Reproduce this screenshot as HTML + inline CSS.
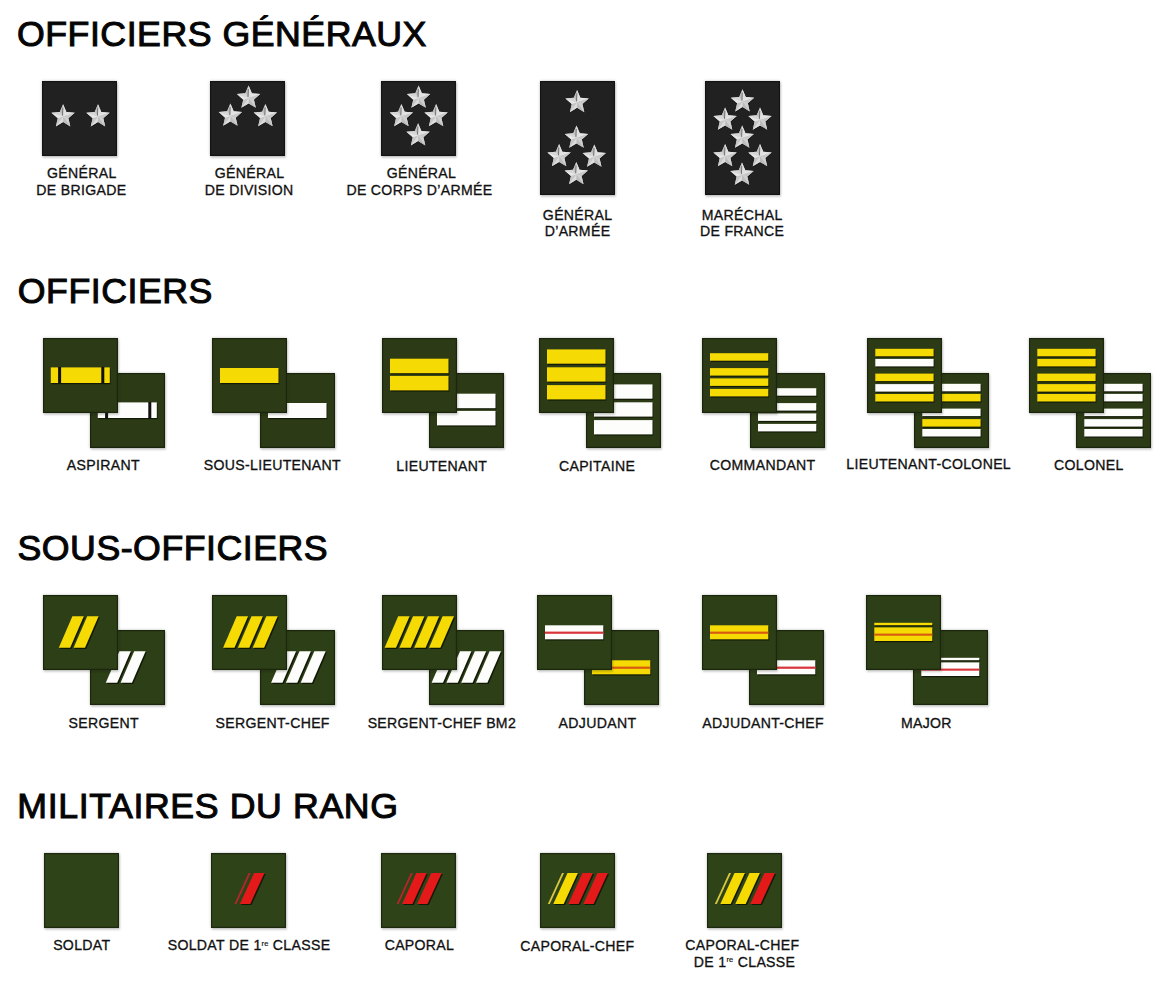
<!DOCTYPE html><html><head><meta charset="utf-8"><style>
*{margin:0;padding:0;box-sizing:border-box}
html,body{width:1170px;height:981px;overflow:hidden;background:#fff}
body{position:relative;font-family:"Liberation Sans",sans-serif;color:#1b1b1b}
.h{position:absolute;left:0;font-size:35.7px;line-height:36px;letter-spacing:0.52px;white-space:nowrap;color:#050505;-webkit-text-stroke:1.05px #050505}
.bx{position:absolute;box-shadow:inset 0 0 0 1.2px rgba(0,0,0,.38),0 0 2.5px rgba(60,70,50,.35),1px 1.5px 2px rgba(0,0,0,.15)}
.bx svg{z-index:0}
.bx svg{position:absolute;left:0;top:0;display:block}
.l{position:absolute;font-size:14.1px;letter-spacing:0.32px;line-height:14px;white-space:nowrap;width:300px;text-align:center;color:#111;-webkit-text-stroke:0.32px #111}
.l sup{font-size:7.5px;vertical-align:0;position:relative;top:-4.5px;letter-spacing:0.2px;-webkit-text-stroke:0.2px #1b1b1b}
</style></head><body>
<div class="h" style="left:17.0px;top:15.79px">OFFICIERS GÉNÉRAUX</div>
<div class="h" style="left:17.8px;top:272.79px">OFFICIERS</div>
<div class="h" style="left:17.5px;top:530.19px">SOUS-OFFICIERS</div>
<div class="h" style="left:17.3px;top:787.69px"><span style="letter-spacing:0.62px">MILITAIRES DU RANG</span></div>
<div class="bx" style="left:42px;top:80.5px;width:75px;height:75px;background:#212121"><svg width="75" height="75" viewBox="0 0 75 75"><polygon points="21.10,23.20 24.39,30.97 32.80,31.70 26.43,37.23 28.33,45.45 21.10,41.10 13.87,45.45 15.77,37.23 9.40,31.70 17.81,30.97" fill="#0a0a0a" opacity="0.6" transform="translate(0.5,0.7)"/><polygon points="21.10,23.20 24.39,30.97 32.80,31.70 26.43,37.23 28.33,45.45 21.10,41.10 13.87,45.45 15.77,37.23 9.40,31.70 17.81,30.97" fill="#d2d2d2"/><polygon points="21.10,35.50 17.81,30.97 21.10,23.20" fill="#bdbdbd"/><polygon points="21.10,35.50 21.10,23.20 24.39,30.97" fill="#e0e0e0"/><polygon points="21.10,35.50 24.39,30.97 32.80,31.70" fill="#e4e4e4"/><polygon points="21.10,35.50 32.80,31.70 26.43,37.23" fill="#c8c8c8"/><polygon points="21.10,35.50 26.43,37.23 28.33,45.45" fill="#d0d0d0"/><polygon points="21.10,35.50 28.33,45.45 21.10,41.10" fill="#bcbcbc"/><polygon points="21.10,35.50 21.10,41.10 13.87,45.45" fill="#dcdcdc"/><polygon points="21.10,35.50 13.87,45.45 15.77,37.23" fill="#c6c6c6"/><polygon points="21.10,35.50 15.77,37.23 9.40,31.70" fill="#e6e6e6"/><polygon points="21.10,35.50 9.40,31.70 17.81,30.97" fill="#d6d6d6"/><line x1="20.50" y1="34.50" x2="20.90" y2="26.70" stroke="#6a6a6a" stroke-width="0.9"/><polygon points="56.00,23.20 59.29,30.97 67.70,31.70 61.33,37.23 63.23,45.45 56.00,41.10 48.77,45.45 50.67,37.23 44.30,31.70 52.71,30.97" fill="#0a0a0a" opacity="0.6" transform="translate(0.5,0.7)"/><polygon points="56.00,23.20 59.29,30.97 67.70,31.70 61.33,37.23 63.23,45.45 56.00,41.10 48.77,45.45 50.67,37.23 44.30,31.70 52.71,30.97" fill="#d2d2d2"/><polygon points="56.00,35.50 52.71,30.97 56.00,23.20" fill="#bdbdbd"/><polygon points="56.00,35.50 56.00,23.20 59.29,30.97" fill="#e0e0e0"/><polygon points="56.00,35.50 59.29,30.97 67.70,31.70" fill="#e4e4e4"/><polygon points="56.00,35.50 67.70,31.70 61.33,37.23" fill="#c8c8c8"/><polygon points="56.00,35.50 61.33,37.23 63.23,45.45" fill="#d0d0d0"/><polygon points="56.00,35.50 63.23,45.45 56.00,41.10" fill="#bcbcbc"/><polygon points="56.00,35.50 56.00,41.10 48.77,45.45" fill="#dcdcdc"/><polygon points="56.00,35.50 48.77,45.45 50.67,37.23" fill="#c6c6c6"/><polygon points="56.00,35.50 50.67,37.23 44.30,31.70" fill="#e6e6e6"/><polygon points="56.00,35.50 44.30,31.70 52.71,30.97" fill="#d6d6d6"/><line x1="55.40" y1="34.50" x2="55.80" y2="26.70" stroke="#6a6a6a" stroke-width="0.9"/></svg></div>
<div class="bx" style="left:209.8px;top:80.8px;width:75px;height:75px;background:#212121"><svg width="75" height="75" viewBox="0 0 75 75"><polygon points="38.60,4.60 41.89,12.37 50.30,13.10 43.93,18.63 45.83,26.85 38.60,22.50 31.37,26.85 33.27,18.63 26.90,13.10 35.31,12.37" fill="#0a0a0a" opacity="0.6" transform="translate(0.5,0.7)"/><polygon points="38.60,4.60 41.89,12.37 50.30,13.10 43.93,18.63 45.83,26.85 38.60,22.50 31.37,26.85 33.27,18.63 26.90,13.10 35.31,12.37" fill="#d2d2d2"/><polygon points="38.60,16.90 35.31,12.37 38.60,4.60" fill="#bdbdbd"/><polygon points="38.60,16.90 38.60,4.60 41.89,12.37" fill="#e0e0e0"/><polygon points="38.60,16.90 41.89,12.37 50.30,13.10" fill="#e4e4e4"/><polygon points="38.60,16.90 50.30,13.10 43.93,18.63" fill="#c8c8c8"/><polygon points="38.60,16.90 43.93,18.63 45.83,26.85" fill="#d0d0d0"/><polygon points="38.60,16.90 45.83,26.85 38.60,22.50" fill="#bcbcbc"/><polygon points="38.60,16.90 38.60,22.50 31.37,26.85" fill="#dcdcdc"/><polygon points="38.60,16.90 31.37,26.85 33.27,18.63" fill="#c6c6c6"/><polygon points="38.60,16.90 33.27,18.63 26.90,13.10" fill="#e6e6e6"/><polygon points="38.60,16.90 26.90,13.10 35.31,12.37" fill="#d6d6d6"/><line x1="38.00" y1="15.90" x2="38.40" y2="8.10" stroke="#6a6a6a" stroke-width="0.9"/><polygon points="20.40,22.60 23.69,30.37 32.10,31.10 25.73,36.63 27.63,44.85 20.40,40.50 13.17,44.85 15.07,36.63 8.70,31.10 17.11,30.37" fill="#0a0a0a" opacity="0.6" transform="translate(0.5,0.7)"/><polygon points="20.40,22.60 23.69,30.37 32.10,31.10 25.73,36.63 27.63,44.85 20.40,40.50 13.17,44.85 15.07,36.63 8.70,31.10 17.11,30.37" fill="#d2d2d2"/><polygon points="20.40,34.90 17.11,30.37 20.40,22.60" fill="#bdbdbd"/><polygon points="20.40,34.90 20.40,22.60 23.69,30.37" fill="#e0e0e0"/><polygon points="20.40,34.90 23.69,30.37 32.10,31.10" fill="#e4e4e4"/><polygon points="20.40,34.90 32.10,31.10 25.73,36.63" fill="#c8c8c8"/><polygon points="20.40,34.90 25.73,36.63 27.63,44.85" fill="#d0d0d0"/><polygon points="20.40,34.90 27.63,44.85 20.40,40.50" fill="#bcbcbc"/><polygon points="20.40,34.90 20.40,40.50 13.17,44.85" fill="#dcdcdc"/><polygon points="20.40,34.90 13.17,44.85 15.07,36.63" fill="#c6c6c6"/><polygon points="20.40,34.90 15.07,36.63 8.70,31.10" fill="#e6e6e6"/><polygon points="20.40,34.90 8.70,31.10 17.11,30.37" fill="#d6d6d6"/><line x1="19.80" y1="33.90" x2="20.20" y2="26.10" stroke="#6a6a6a" stroke-width="0.9"/><polygon points="55.40,23.00 58.69,30.77 67.10,31.50 60.73,37.03 62.63,45.25 55.40,40.90 48.17,45.25 50.07,37.03 43.70,31.50 52.11,30.77" fill="#0a0a0a" opacity="0.6" transform="translate(0.5,0.7)"/><polygon points="55.40,23.00 58.69,30.77 67.10,31.50 60.73,37.03 62.63,45.25 55.40,40.90 48.17,45.25 50.07,37.03 43.70,31.50 52.11,30.77" fill="#d2d2d2"/><polygon points="55.40,35.30 52.11,30.77 55.40,23.00" fill="#bdbdbd"/><polygon points="55.40,35.30 55.40,23.00 58.69,30.77" fill="#e0e0e0"/><polygon points="55.40,35.30 58.69,30.77 67.10,31.50" fill="#e4e4e4"/><polygon points="55.40,35.30 67.10,31.50 60.73,37.03" fill="#c8c8c8"/><polygon points="55.40,35.30 60.73,37.03 62.63,45.25" fill="#d0d0d0"/><polygon points="55.40,35.30 62.63,45.25 55.40,40.90" fill="#bcbcbc"/><polygon points="55.40,35.30 55.40,40.90 48.17,45.25" fill="#dcdcdc"/><polygon points="55.40,35.30 48.17,45.25 50.07,37.03" fill="#c6c6c6"/><polygon points="55.40,35.30 50.07,37.03 43.70,31.50" fill="#e6e6e6"/><polygon points="55.40,35.30 43.70,31.50 52.11,30.77" fill="#d6d6d6"/><line x1="54.80" y1="34.30" x2="55.20" y2="26.50" stroke="#6a6a6a" stroke-width="0.9"/></svg></div>
<div class="bx" style="left:381.2px;top:80.5px;width:75px;height:75px;background:#212121"><svg width="75" height="75" viewBox="0 0 75 75"><polygon points="37.60,4.60 40.89,12.37 49.30,13.10 42.93,18.63 44.83,26.85 37.60,22.50 30.37,26.85 32.27,18.63 25.90,13.10 34.31,12.37" fill="#0a0a0a" opacity="0.6" transform="translate(0.5,0.7)"/><polygon points="37.60,4.60 40.89,12.37 49.30,13.10 42.93,18.63 44.83,26.85 37.60,22.50 30.37,26.85 32.27,18.63 25.90,13.10 34.31,12.37" fill="#d2d2d2"/><polygon points="37.60,16.90 34.31,12.37 37.60,4.60" fill="#bdbdbd"/><polygon points="37.60,16.90 37.60,4.60 40.89,12.37" fill="#e0e0e0"/><polygon points="37.60,16.90 40.89,12.37 49.30,13.10" fill="#e4e4e4"/><polygon points="37.60,16.90 49.30,13.10 42.93,18.63" fill="#c8c8c8"/><polygon points="37.60,16.90 42.93,18.63 44.83,26.85" fill="#d0d0d0"/><polygon points="37.60,16.90 44.83,26.85 37.60,22.50" fill="#bcbcbc"/><polygon points="37.60,16.90 37.60,22.50 30.37,26.85" fill="#dcdcdc"/><polygon points="37.60,16.90 30.37,26.85 32.27,18.63" fill="#c6c6c6"/><polygon points="37.60,16.90 32.27,18.63 25.90,13.10" fill="#e6e6e6"/><polygon points="37.60,16.90 25.90,13.10 34.31,12.37" fill="#d6d6d6"/><line x1="37.00" y1="15.90" x2="37.40" y2="8.10" stroke="#6a6a6a" stroke-width="0.9"/><polygon points="20.40,23.00 23.69,30.77 32.10,31.50 25.73,37.03 27.63,45.25 20.40,40.90 13.17,45.25 15.07,37.03 8.70,31.50 17.11,30.77" fill="#0a0a0a" opacity="0.6" transform="translate(0.5,0.7)"/><polygon points="20.40,23.00 23.69,30.77 32.10,31.50 25.73,37.03 27.63,45.25 20.40,40.90 13.17,45.25 15.07,37.03 8.70,31.50 17.11,30.77" fill="#d2d2d2"/><polygon points="20.40,35.30 17.11,30.77 20.40,23.00" fill="#bdbdbd"/><polygon points="20.40,35.30 20.40,23.00 23.69,30.77" fill="#e0e0e0"/><polygon points="20.40,35.30 23.69,30.77 32.10,31.50" fill="#e4e4e4"/><polygon points="20.40,35.30 32.10,31.50 25.73,37.03" fill="#c8c8c8"/><polygon points="20.40,35.30 25.73,37.03 27.63,45.25" fill="#d0d0d0"/><polygon points="20.40,35.30 27.63,45.25 20.40,40.90" fill="#bcbcbc"/><polygon points="20.40,35.30 20.40,40.90 13.17,45.25" fill="#dcdcdc"/><polygon points="20.40,35.30 13.17,45.25 15.07,37.03" fill="#c6c6c6"/><polygon points="20.40,35.30 15.07,37.03 8.70,31.50" fill="#e6e6e6"/><polygon points="20.40,35.30 8.70,31.50 17.11,30.77" fill="#d6d6d6"/><line x1="19.80" y1="34.30" x2="20.20" y2="26.50" stroke="#6a6a6a" stroke-width="0.9"/><polygon points="55.10,23.00 58.39,30.77 66.80,31.50 60.43,37.03 62.33,45.25 55.10,40.90 47.87,45.25 49.77,37.03 43.40,31.50 51.81,30.77" fill="#0a0a0a" opacity="0.6" transform="translate(0.5,0.7)"/><polygon points="55.10,23.00 58.39,30.77 66.80,31.50 60.43,37.03 62.33,45.25 55.10,40.90 47.87,45.25 49.77,37.03 43.40,31.50 51.81,30.77" fill="#d2d2d2"/><polygon points="55.10,35.30 51.81,30.77 55.10,23.00" fill="#bdbdbd"/><polygon points="55.10,35.30 55.10,23.00 58.39,30.77" fill="#e0e0e0"/><polygon points="55.10,35.30 58.39,30.77 66.80,31.50" fill="#e4e4e4"/><polygon points="55.10,35.30 66.80,31.50 60.43,37.03" fill="#c8c8c8"/><polygon points="55.10,35.30 60.43,37.03 62.33,45.25" fill="#d0d0d0"/><polygon points="55.10,35.30 62.33,45.25 55.10,40.90" fill="#bcbcbc"/><polygon points="55.10,35.30 55.10,40.90 47.87,45.25" fill="#dcdcdc"/><polygon points="55.10,35.30 47.87,45.25 49.77,37.03" fill="#c6c6c6"/><polygon points="55.10,35.30 49.77,37.03 43.40,31.50" fill="#e6e6e6"/><polygon points="55.10,35.30 43.40,31.50 51.81,30.77" fill="#d6d6d6"/><line x1="54.50" y1="34.30" x2="54.90" y2="26.50" stroke="#6a6a6a" stroke-width="0.9"/><polygon points="37.10,42.20 40.39,49.97 48.80,50.70 42.43,56.23 44.33,64.45 37.10,60.10 29.87,64.45 31.77,56.23 25.40,50.70 33.81,49.97" fill="#0a0a0a" opacity="0.6" transform="translate(0.5,0.7)"/><polygon points="37.10,42.20 40.39,49.97 48.80,50.70 42.43,56.23 44.33,64.45 37.10,60.10 29.87,64.45 31.77,56.23 25.40,50.70 33.81,49.97" fill="#d2d2d2"/><polygon points="37.10,54.50 33.81,49.97 37.10,42.20" fill="#bdbdbd"/><polygon points="37.10,54.50 37.10,42.20 40.39,49.97" fill="#e0e0e0"/><polygon points="37.10,54.50 40.39,49.97 48.80,50.70" fill="#e4e4e4"/><polygon points="37.10,54.50 48.80,50.70 42.43,56.23" fill="#c8c8c8"/><polygon points="37.10,54.50 42.43,56.23 44.33,64.45" fill="#d0d0d0"/><polygon points="37.10,54.50 44.33,64.45 37.10,60.10" fill="#bcbcbc"/><polygon points="37.10,54.50 37.10,60.10 29.87,64.45" fill="#dcdcdc"/><polygon points="37.10,54.50 29.87,64.45 31.77,56.23" fill="#c6c6c6"/><polygon points="37.10,54.50 31.77,56.23 25.40,50.70" fill="#e6e6e6"/><polygon points="37.10,54.50 25.40,50.70 33.81,49.97" fill="#d6d6d6"/><line x1="36.50" y1="53.50" x2="36.90" y2="45.70" stroke="#6a6a6a" stroke-width="0.9"/></svg></div>
<div class="bx" style="left:540.2px;top:80.7px;width:75px;height:114px;background:#212121"><svg width="75" height="114" viewBox="0 0 75 114"><polygon points="37.10,8.90 40.39,16.67 48.80,17.40 42.43,22.93 44.33,31.15 37.10,26.80 29.87,31.15 31.77,22.93 25.40,17.40 33.81,16.67" fill="#0a0a0a" opacity="0.6" transform="translate(0.5,0.7)"/><polygon points="37.10,8.90 40.39,16.67 48.80,17.40 42.43,22.93 44.33,31.15 37.10,26.80 29.87,31.15 31.77,22.93 25.40,17.40 33.81,16.67" fill="#d2d2d2"/><polygon points="37.10,21.20 33.81,16.67 37.10,8.90" fill="#bdbdbd"/><polygon points="37.10,21.20 37.10,8.90 40.39,16.67" fill="#e0e0e0"/><polygon points="37.10,21.20 40.39,16.67 48.80,17.40" fill="#e4e4e4"/><polygon points="37.10,21.20 48.80,17.40 42.43,22.93" fill="#c8c8c8"/><polygon points="37.10,21.20 42.43,22.93 44.33,31.15" fill="#d0d0d0"/><polygon points="37.10,21.20 44.33,31.15 37.10,26.80" fill="#bcbcbc"/><polygon points="37.10,21.20 37.10,26.80 29.87,31.15" fill="#dcdcdc"/><polygon points="37.10,21.20 29.87,31.15 31.77,22.93" fill="#c6c6c6"/><polygon points="37.10,21.20 31.77,22.93 25.40,17.40" fill="#e6e6e6"/><polygon points="37.10,21.20 25.40,17.40 33.81,16.67" fill="#d6d6d6"/><line x1="36.50" y1="20.20" x2="36.90" y2="12.40" stroke="#6a6a6a" stroke-width="0.9"/><polygon points="36.50,44.50 39.79,52.27 48.20,53.00 41.83,58.53 43.73,66.75 36.50,62.40 29.27,66.75 31.17,58.53 24.80,53.00 33.21,52.27" fill="#0a0a0a" opacity="0.6" transform="translate(0.5,0.7)"/><polygon points="36.50,44.50 39.79,52.27 48.20,53.00 41.83,58.53 43.73,66.75 36.50,62.40 29.27,66.75 31.17,58.53 24.80,53.00 33.21,52.27" fill="#d2d2d2"/><polygon points="36.50,56.80 33.21,52.27 36.50,44.50" fill="#bdbdbd"/><polygon points="36.50,56.80 36.50,44.50 39.79,52.27" fill="#e0e0e0"/><polygon points="36.50,56.80 39.79,52.27 48.20,53.00" fill="#e4e4e4"/><polygon points="36.50,56.80 48.20,53.00 41.83,58.53" fill="#c8c8c8"/><polygon points="36.50,56.80 41.83,58.53 43.73,66.75" fill="#d0d0d0"/><polygon points="36.50,56.80 43.73,66.75 36.50,62.40" fill="#bcbcbc"/><polygon points="36.50,56.80 36.50,62.40 29.27,66.75" fill="#dcdcdc"/><polygon points="36.50,56.80 29.27,66.75 31.17,58.53" fill="#c6c6c6"/><polygon points="36.50,56.80 31.17,58.53 24.80,53.00" fill="#e6e6e6"/><polygon points="36.50,56.80 24.80,53.00 33.21,52.27" fill="#d6d6d6"/><line x1="35.90" y1="55.80" x2="36.30" y2="48.00" stroke="#6a6a6a" stroke-width="0.9"/><polygon points="19.10,63.00 22.39,70.77 30.80,71.50 24.43,77.03 26.33,85.25 19.10,80.90 11.87,85.25 13.77,77.03 7.40,71.50 15.81,70.77" fill="#0a0a0a" opacity="0.6" transform="translate(0.5,0.7)"/><polygon points="19.10,63.00 22.39,70.77 30.80,71.50 24.43,77.03 26.33,85.25 19.10,80.90 11.87,85.25 13.77,77.03 7.40,71.50 15.81,70.77" fill="#d2d2d2"/><polygon points="19.10,75.30 15.81,70.77 19.10,63.00" fill="#bdbdbd"/><polygon points="19.10,75.30 19.10,63.00 22.39,70.77" fill="#e0e0e0"/><polygon points="19.10,75.30 22.39,70.77 30.80,71.50" fill="#e4e4e4"/><polygon points="19.10,75.30 30.80,71.50 24.43,77.03" fill="#c8c8c8"/><polygon points="19.10,75.30 24.43,77.03 26.33,85.25" fill="#d0d0d0"/><polygon points="19.10,75.30 26.33,85.25 19.10,80.90" fill="#bcbcbc"/><polygon points="19.10,75.30 19.10,80.90 11.87,85.25" fill="#dcdcdc"/><polygon points="19.10,75.30 11.87,85.25 13.77,77.03" fill="#c6c6c6"/><polygon points="19.10,75.30 13.77,77.03 7.40,71.50" fill="#e6e6e6"/><polygon points="19.10,75.30 7.40,71.50 15.81,70.77" fill="#d6d6d6"/><line x1="18.50" y1="74.30" x2="18.90" y2="66.50" stroke="#6a6a6a" stroke-width="0.9"/><polygon points="54.30,63.50 57.59,71.27 66.00,72.00 59.63,77.53 61.53,85.75 54.30,81.40 47.07,85.75 48.97,77.53 42.60,72.00 51.01,71.27" fill="#0a0a0a" opacity="0.6" transform="translate(0.5,0.7)"/><polygon points="54.30,63.50 57.59,71.27 66.00,72.00 59.63,77.53 61.53,85.75 54.30,81.40 47.07,85.75 48.97,77.53 42.60,72.00 51.01,71.27" fill="#d2d2d2"/><polygon points="54.30,75.80 51.01,71.27 54.30,63.50" fill="#bdbdbd"/><polygon points="54.30,75.80 54.30,63.50 57.59,71.27" fill="#e0e0e0"/><polygon points="54.30,75.80 57.59,71.27 66.00,72.00" fill="#e4e4e4"/><polygon points="54.30,75.80 66.00,72.00 59.63,77.53" fill="#c8c8c8"/><polygon points="54.30,75.80 59.63,77.53 61.53,85.75" fill="#d0d0d0"/><polygon points="54.30,75.80 61.53,85.75 54.30,81.40" fill="#bcbcbc"/><polygon points="54.30,75.80 54.30,81.40 47.07,85.75" fill="#dcdcdc"/><polygon points="54.30,75.80 47.07,85.75 48.97,77.53" fill="#c6c6c6"/><polygon points="54.30,75.80 48.97,77.53 42.60,72.00" fill="#e6e6e6"/><polygon points="54.30,75.80 42.60,72.00 51.01,71.27" fill="#d6d6d6"/><line x1="53.70" y1="74.80" x2="54.10" y2="67.00" stroke="#6a6a6a" stroke-width="0.9"/><polygon points="36.30,80.90 39.59,88.67 48.00,89.40 41.63,94.93 43.53,103.15 36.30,98.80 29.07,103.15 30.97,94.93 24.60,89.40 33.01,88.67" fill="#0a0a0a" opacity="0.6" transform="translate(0.5,0.7)"/><polygon points="36.30,80.90 39.59,88.67 48.00,89.40 41.63,94.93 43.53,103.15 36.30,98.80 29.07,103.15 30.97,94.93 24.60,89.40 33.01,88.67" fill="#d2d2d2"/><polygon points="36.30,93.20 33.01,88.67 36.30,80.90" fill="#bdbdbd"/><polygon points="36.30,93.20 36.30,80.90 39.59,88.67" fill="#e0e0e0"/><polygon points="36.30,93.20 39.59,88.67 48.00,89.40" fill="#e4e4e4"/><polygon points="36.30,93.20 48.00,89.40 41.63,94.93" fill="#c8c8c8"/><polygon points="36.30,93.20 41.63,94.93 43.53,103.15" fill="#d0d0d0"/><polygon points="36.30,93.20 43.53,103.15 36.30,98.80" fill="#bcbcbc"/><polygon points="36.30,93.20 36.30,98.80 29.07,103.15" fill="#dcdcdc"/><polygon points="36.30,93.20 29.07,103.15 30.97,94.93" fill="#c6c6c6"/><polygon points="36.30,93.20 30.97,94.93 24.60,89.40" fill="#e6e6e6"/><polygon points="36.30,93.20 24.60,89.40 33.01,88.67" fill="#d6d6d6"/><line x1="35.70" y1="92.20" x2="36.10" y2="84.40" stroke="#6a6a6a" stroke-width="0.9"/></svg></div>
<div class="bx" style="left:705px;top:80.7px;width:75px;height:114px;background:#212121"><svg width="75" height="114" viewBox="0 0 75 114"><polygon points="37.50,8.20 40.79,15.97 49.20,16.70 42.83,22.23 44.73,30.45 37.50,26.10 30.27,30.45 32.17,22.23 25.80,16.70 34.21,15.97" fill="#0a0a0a" opacity="0.6" transform="translate(0.5,0.7)"/><polygon points="37.50,8.20 40.79,15.97 49.20,16.70 42.83,22.23 44.73,30.45 37.50,26.10 30.27,30.45 32.17,22.23 25.80,16.70 34.21,15.97" fill="#d2d2d2"/><polygon points="37.50,20.50 34.21,15.97 37.50,8.20" fill="#bdbdbd"/><polygon points="37.50,20.50 37.50,8.20 40.79,15.97" fill="#e0e0e0"/><polygon points="37.50,20.50 40.79,15.97 49.20,16.70" fill="#e4e4e4"/><polygon points="37.50,20.50 49.20,16.70 42.83,22.23" fill="#c8c8c8"/><polygon points="37.50,20.50 42.83,22.23 44.73,30.45" fill="#d0d0d0"/><polygon points="37.50,20.50 44.73,30.45 37.50,26.10" fill="#bcbcbc"/><polygon points="37.50,20.50 37.50,26.10 30.27,30.45" fill="#dcdcdc"/><polygon points="37.50,20.50 30.27,30.45 32.17,22.23" fill="#c6c6c6"/><polygon points="37.50,20.50 32.17,22.23 25.80,16.70" fill="#e6e6e6"/><polygon points="37.50,20.50 25.80,16.70 34.21,15.97" fill="#d6d6d6"/><line x1="36.90" y1="19.50" x2="37.30" y2="11.70" stroke="#6a6a6a" stroke-width="0.9"/><polygon points="20.10,26.50 23.39,34.27 31.80,35.00 25.43,40.53 27.33,48.75 20.10,44.40 12.87,48.75 14.77,40.53 8.40,35.00 16.81,34.27" fill="#0a0a0a" opacity="0.6" transform="translate(0.5,0.7)"/><polygon points="20.10,26.50 23.39,34.27 31.80,35.00 25.43,40.53 27.33,48.75 20.10,44.40 12.87,48.75 14.77,40.53 8.40,35.00 16.81,34.27" fill="#d2d2d2"/><polygon points="20.10,38.80 16.81,34.27 20.10,26.50" fill="#bdbdbd"/><polygon points="20.10,38.80 20.10,26.50 23.39,34.27" fill="#e0e0e0"/><polygon points="20.10,38.80 23.39,34.27 31.80,35.00" fill="#e4e4e4"/><polygon points="20.10,38.80 31.80,35.00 25.43,40.53" fill="#c8c8c8"/><polygon points="20.10,38.80 25.43,40.53 27.33,48.75" fill="#d0d0d0"/><polygon points="20.10,38.80 27.33,48.75 20.10,44.40" fill="#bcbcbc"/><polygon points="20.10,38.80 20.10,44.40 12.87,48.75" fill="#dcdcdc"/><polygon points="20.10,38.80 12.87,48.75 14.77,40.53" fill="#c6c6c6"/><polygon points="20.10,38.80 14.77,40.53 8.40,35.00" fill="#e6e6e6"/><polygon points="20.10,38.80 8.40,35.00 16.81,34.27" fill="#d6d6d6"/><line x1="19.50" y1="37.80" x2="19.90" y2="30.00" stroke="#6a6a6a" stroke-width="0.9"/><polygon points="55.00,26.50 58.29,34.27 66.70,35.00 60.33,40.53 62.23,48.75 55.00,44.40 47.77,48.75 49.67,40.53 43.30,35.00 51.71,34.27" fill="#0a0a0a" opacity="0.6" transform="translate(0.5,0.7)"/><polygon points="55.00,26.50 58.29,34.27 66.70,35.00 60.33,40.53 62.23,48.75 55.00,44.40 47.77,48.75 49.67,40.53 43.30,35.00 51.71,34.27" fill="#d2d2d2"/><polygon points="55.00,38.80 51.71,34.27 55.00,26.50" fill="#bdbdbd"/><polygon points="55.00,38.80 55.00,26.50 58.29,34.27" fill="#e0e0e0"/><polygon points="55.00,38.80 58.29,34.27 66.70,35.00" fill="#e4e4e4"/><polygon points="55.00,38.80 66.70,35.00 60.33,40.53" fill="#c8c8c8"/><polygon points="55.00,38.80 60.33,40.53 62.23,48.75" fill="#d0d0d0"/><polygon points="55.00,38.80 62.23,48.75 55.00,44.40" fill="#bcbcbc"/><polygon points="55.00,38.80 55.00,44.40 47.77,48.75" fill="#dcdcdc"/><polygon points="55.00,38.80 47.77,48.75 49.67,40.53" fill="#c6c6c6"/><polygon points="55.00,38.80 49.67,40.53 43.30,35.00" fill="#e6e6e6"/><polygon points="55.00,38.80 43.30,35.00 51.71,34.27" fill="#d6d6d6"/><line x1="54.40" y1="37.80" x2="54.80" y2="30.00" stroke="#6a6a6a" stroke-width="0.9"/><polygon points="37.20,44.50 40.49,52.27 48.90,53.00 42.53,58.53 44.43,66.75 37.20,62.40 29.97,66.75 31.87,58.53 25.50,53.00 33.91,52.27" fill="#0a0a0a" opacity="0.6" transform="translate(0.5,0.7)"/><polygon points="37.20,44.50 40.49,52.27 48.90,53.00 42.53,58.53 44.43,66.75 37.20,62.40 29.97,66.75 31.87,58.53 25.50,53.00 33.91,52.27" fill="#d2d2d2"/><polygon points="37.20,56.80 33.91,52.27 37.20,44.50" fill="#bdbdbd"/><polygon points="37.20,56.80 37.20,44.50 40.49,52.27" fill="#e0e0e0"/><polygon points="37.20,56.80 40.49,52.27 48.90,53.00" fill="#e4e4e4"/><polygon points="37.20,56.80 48.90,53.00 42.53,58.53" fill="#c8c8c8"/><polygon points="37.20,56.80 42.53,58.53 44.43,66.75" fill="#d0d0d0"/><polygon points="37.20,56.80 44.43,66.75 37.20,62.40" fill="#bcbcbc"/><polygon points="37.20,56.80 37.20,62.40 29.97,66.75" fill="#dcdcdc"/><polygon points="37.20,56.80 29.97,66.75 31.87,58.53" fill="#c6c6c6"/><polygon points="37.20,56.80 31.87,58.53 25.50,53.00" fill="#e6e6e6"/><polygon points="37.20,56.80 25.50,53.00 33.91,52.27" fill="#d6d6d6"/><line x1="36.60" y1="55.80" x2="37.00" y2="48.00" stroke="#6a6a6a" stroke-width="0.9"/><polygon points="20.10,63.00 23.39,70.77 31.80,71.50 25.43,77.03 27.33,85.25 20.10,80.90 12.87,85.25 14.77,77.03 8.40,71.50 16.81,70.77" fill="#0a0a0a" opacity="0.6" transform="translate(0.5,0.7)"/><polygon points="20.10,63.00 23.39,70.77 31.80,71.50 25.43,77.03 27.33,85.25 20.10,80.90 12.87,85.25 14.77,77.03 8.40,71.50 16.81,70.77" fill="#d2d2d2"/><polygon points="20.10,75.30 16.81,70.77 20.10,63.00" fill="#bdbdbd"/><polygon points="20.10,75.30 20.10,63.00 23.39,70.77" fill="#e0e0e0"/><polygon points="20.10,75.30 23.39,70.77 31.80,71.50" fill="#e4e4e4"/><polygon points="20.10,75.30 31.80,71.50 25.43,77.03" fill="#c8c8c8"/><polygon points="20.10,75.30 25.43,77.03 27.33,85.25" fill="#d0d0d0"/><polygon points="20.10,75.30 27.33,85.25 20.10,80.90" fill="#bcbcbc"/><polygon points="20.10,75.30 20.10,80.90 12.87,85.25" fill="#dcdcdc"/><polygon points="20.10,75.30 12.87,85.25 14.77,77.03" fill="#c6c6c6"/><polygon points="20.10,75.30 14.77,77.03 8.40,71.50" fill="#e6e6e6"/><polygon points="20.10,75.30 8.40,71.50 16.81,70.77" fill="#d6d6d6"/><line x1="19.50" y1="74.30" x2="19.90" y2="66.50" stroke="#6a6a6a" stroke-width="0.9"/><polygon points="55.00,63.00 58.29,70.77 66.70,71.50 60.33,77.03 62.23,85.25 55.00,80.90 47.77,85.25 49.67,77.03 43.30,71.50 51.71,70.77" fill="#0a0a0a" opacity="0.6" transform="translate(0.5,0.7)"/><polygon points="55.00,63.00 58.29,70.77 66.70,71.50 60.33,77.03 62.23,85.25 55.00,80.90 47.77,85.25 49.67,77.03 43.30,71.50 51.71,70.77" fill="#d2d2d2"/><polygon points="55.00,75.30 51.71,70.77 55.00,63.00" fill="#bdbdbd"/><polygon points="55.00,75.30 55.00,63.00 58.29,70.77" fill="#e0e0e0"/><polygon points="55.00,75.30 58.29,70.77 66.70,71.50" fill="#e4e4e4"/><polygon points="55.00,75.30 66.70,71.50 60.33,77.03" fill="#c8c8c8"/><polygon points="55.00,75.30 60.33,77.03 62.23,85.25" fill="#d0d0d0"/><polygon points="55.00,75.30 62.23,85.25 55.00,80.90" fill="#bcbcbc"/><polygon points="55.00,75.30 55.00,80.90 47.77,85.25" fill="#dcdcdc"/><polygon points="55.00,75.30 47.77,85.25 49.67,77.03" fill="#c6c6c6"/><polygon points="55.00,75.30 49.67,77.03 43.30,71.50" fill="#e6e6e6"/><polygon points="55.00,75.30 43.30,71.50 51.71,70.77" fill="#d6d6d6"/><line x1="54.40" y1="74.30" x2="54.80" y2="66.50" stroke="#6a6a6a" stroke-width="0.9"/><polygon points="37.00,81.50 40.29,89.27 48.70,90.00 42.33,95.53 44.23,103.75 37.00,99.40 29.77,103.75 31.67,95.53 25.30,90.00 33.71,89.27" fill="#0a0a0a" opacity="0.6" transform="translate(0.5,0.7)"/><polygon points="37.00,81.50 40.29,89.27 48.70,90.00 42.33,95.53 44.23,103.75 37.00,99.40 29.77,103.75 31.67,95.53 25.30,90.00 33.71,89.27" fill="#d2d2d2"/><polygon points="37.00,93.80 33.71,89.27 37.00,81.50" fill="#bdbdbd"/><polygon points="37.00,93.80 37.00,81.50 40.29,89.27" fill="#e0e0e0"/><polygon points="37.00,93.80 40.29,89.27 48.70,90.00" fill="#e4e4e4"/><polygon points="37.00,93.80 48.70,90.00 42.33,95.53" fill="#c8c8c8"/><polygon points="37.00,93.80 42.33,95.53 44.23,103.75" fill="#d0d0d0"/><polygon points="37.00,93.80 44.23,103.75 37.00,99.40" fill="#bcbcbc"/><polygon points="37.00,93.80 37.00,99.40 29.77,103.75" fill="#dcdcdc"/><polygon points="37.00,93.80 29.77,103.75 31.67,95.53" fill="#c6c6c6"/><polygon points="37.00,93.80 31.67,95.53 25.30,90.00" fill="#e6e6e6"/><polygon points="37.00,93.80 25.30,90.00 33.71,89.27" fill="#d6d6d6"/><line x1="36.40" y1="92.80" x2="36.80" y2="85.00" stroke="#6a6a6a" stroke-width="0.9"/></svg></div>
<div class="l" style="left:-68.14px;top:166.21px">GÉNÉRAL</div>
<div class="l" style="left:-68.64px;top:182.71px">DE BRIGADE</div>
<div class="l" style="left:99.56px;top:166.21px">GÉNÉRAL</div>
<div class="l" style="left:99.16px;top:182.71px">DE DIVISION</div>
<div class="l" style="left:271.46px;top:166.21px">GÉNÉRAL</div>
<div class="l" style="left:269.46px;top:182.71px">DE CORPS D’ARMÉE</div>
<div class="l" style="left:427.66px;top:207.71px">GÉNÉRAL</div>
<div class="l" style="left:427.56px;top:224.21px">D’ARMÉE</div>
<div class="l" style="left:592.16px;top:207.71px">MARÉCHAL</div>
<div class="l" style="left:592.16px;top:224.21px">DE FRANCE</div>
<div class="bx" style="left:90.3px;top:372.8px;width:75px;height:75px;background:#2c3b15"><svg width="75" height="75" viewBox="0 0 75 75"><rect x="8.6" y="30.599999999999998" width="59" height="15.6" fill="#0d1204" opacity="0.8"/><rect x="7.8" y="29.4" width="59" height="15.6" fill="#fdfdfb"/><rect x="15.1" y="29" width="3" height="16.4" fill="#111"/><rect x="58.3" y="29" width="3" height="16.4" fill="#111"/></svg></div>
<div class="bx" style="left:43px;top:338px;width:75px;height:75px;background:#2c3b15"><svg width="75" height="75" viewBox="0 0 75 75"><rect x="8.6" y="30.599999999999998" width="59" height="15.6" fill="#0d1204" opacity="0.8"/><rect x="7.8" y="29.4" width="59" height="15.6" fill="#f6da04"/><rect x="15.1" y="29" width="3" height="16.4" fill="#111"/><rect x="58.3" y="29" width="3" height="16.4" fill="#111"/></svg></div>
<div class="bx" style="left:259.9px;top:372.8px;width:75px;height:75px;background:#2c3b15"><svg width="75" height="75" viewBox="0 0 75 75"><rect x="8.8" y="31.2" width="58.5" height="15" fill="#0d1204" opacity="0.8"/><rect x="8" y="30" width="58.5" height="15" fill="#fdfdfb"/></svg></div>
<div class="bx" style="left:212px;top:338px;width:75px;height:75px;background:#2c3b15"><svg width="75" height="75" viewBox="0 0 75 75"><rect x="8.8" y="31.2" width="58.5" height="15" fill="#0d1204" opacity="0.8"/><rect x="8" y="30" width="58.5" height="15" fill="#f6da04"/></svg></div>
<div class="bx" style="left:429.2px;top:372.8px;width:75px;height:75px;background:#2c3b15"><svg width="75" height="75" viewBox="0 0 75 75"><rect x="8.8" y="21.9" width="58.5" height="14.5" fill="#0d1204" opacity="0.8"/><rect x="8" y="20.7" width="58.5" height="14.5" fill="#fdfdfb"/><rect x="8.8" y="39.1" width="58.5" height="14.5" fill="#0d1204" opacity="0.8"/><rect x="8" y="37.9" width="58.5" height="14.5" fill="#fdfdfb"/></svg></div>
<div class="bx" style="left:382px;top:338px;width:75px;height:75px;background:#2c3b15"><svg width="75" height="75" viewBox="0 0 75 75"><rect x="8.8" y="21.9" width="58.5" height="14.5" fill="#0d1204" opacity="0.8"/><rect x="8" y="20.7" width="58.5" height="14.5" fill="#f6da04"/><rect x="8.8" y="39.1" width="58.5" height="14.5" fill="#0d1204" opacity="0.8"/><rect x="8" y="37.9" width="58.5" height="14.5" fill="#f6da04"/></svg></div>
<div class="bx" style="left:586.1px;top:372.8px;width:75px;height:75px;background:#2c3b15"><svg width="75" height="75" viewBox="0 0 75 75"><rect x="8.8" y="12.6" width="58.5" height="14.3" fill="#0d1204" opacity="0.8"/><rect x="8" y="11.4" width="58.5" height="14.3" fill="#fdfdfb"/><rect x="8.8" y="30.5" width="58.5" height="14.3" fill="#0d1204" opacity="0.8"/><rect x="8" y="29.3" width="58.5" height="14.3" fill="#fdfdfb"/><rect x="8.8" y="48.300000000000004" width="58.5" height="14.3" fill="#0d1204" opacity="0.8"/><rect x="8" y="47.1" width="58.5" height="14.3" fill="#fdfdfb"/></svg></div>
<div class="bx" style="left:538.7px;top:338px;width:75px;height:75px;background:#2c3b15"><svg width="75" height="75" viewBox="0 0 75 75"><rect x="8.8" y="12.6" width="58.5" height="14.3" fill="#0d1204" opacity="0.8"/><rect x="8" y="11.4" width="58.5" height="14.3" fill="#f6da04"/><rect x="8.8" y="30.5" width="58.5" height="14.3" fill="#0d1204" opacity="0.8"/><rect x="8" y="29.3" width="58.5" height="14.3" fill="#f6da04"/><rect x="8.8" y="48.300000000000004" width="58.5" height="14.3" fill="#0d1204" opacity="0.8"/><rect x="8" y="47.1" width="58.5" height="14.3" fill="#f6da04"/></svg></div>
<div class="bx" style="left:749.5px;top:372.8px;width:75px;height:75px;background:#2c3b15"><svg width="75" height="75" viewBox="0 0 75 75"><rect x="8.8" y="16.4" width="58.3" height="7.5" fill="#0d1204" opacity="0.8"/><rect x="8" y="15.2" width="58.3" height="7.5" fill="#fdfdfb"/><rect x="8.8" y="31.3" width="58.3" height="7.5" fill="#0d1204" opacity="0.8"/><rect x="8" y="30.1" width="58.3" height="7.5" fill="#fdfdfb"/><rect x="8.8" y="41.6" width="58.3" height="7.5" fill="#0d1204" opacity="0.8"/><rect x="8" y="40.4" width="58.3" height="7.5" fill="#fdfdfb"/><rect x="8.8" y="52.1" width="58.3" height="7.5" fill="#0d1204" opacity="0.8"/><rect x="8" y="50.9" width="58.3" height="7.5" fill="#fdfdfb"/></svg></div>
<div class="bx" style="left:702.4px;top:338px;width:75px;height:75px;background:#2c3b15"><svg width="75" height="75" viewBox="0 0 75 75"><rect x="8.8" y="16.4" width="58.3" height="7.5" fill="#0d1204" opacity="0.8"/><rect x="8" y="15.2" width="58.3" height="7.5" fill="#f6da04"/><rect x="8.8" y="31.3" width="58.3" height="7.5" fill="#0d1204" opacity="0.8"/><rect x="8" y="30.1" width="58.3" height="7.5" fill="#f6da04"/><rect x="8.8" y="41.6" width="58.3" height="7.5" fill="#0d1204" opacity="0.8"/><rect x="8" y="40.4" width="58.3" height="7.5" fill="#f6da04"/><rect x="8.8" y="52.1" width="58.3" height="7.5" fill="#0d1204" opacity="0.8"/><rect x="8" y="50.9" width="58.3" height="7.5" fill="#f6da04"/></svg></div>
<div class="bx" style="left:914.1px;top:372.8px;width:75px;height:75px;background:#2c3b15"><svg width="75" height="75" viewBox="0 0 75 75"><rect x="9.100000000000001" y="12.0" width="58.3" height="7.5" fill="#0d1204" opacity="0.8"/><rect x="8.3" y="10.8" width="58.3" height="7.5" fill="#fdfdfb"/><rect x="9.100000000000001" y="22.099999999999998" width="58.3" height="7.5" fill="#0d1204" opacity="0.8"/><rect x="8.3" y="20.9" width="58.3" height="7.5" fill="#f6da04"/><rect x="9.100000000000001" y="36.800000000000004" width="58.3" height="7.5" fill="#0d1204" opacity="0.8"/><rect x="8.3" y="35.6" width="58.3" height="7.5" fill="#fdfdfb"/><rect x="9.100000000000001" y="47.300000000000004" width="58.3" height="7.5" fill="#0d1204" opacity="0.8"/><rect x="8.3" y="46.1" width="58.3" height="7.5" fill="#f6da04"/><rect x="9.100000000000001" y="57.2" width="58.3" height="7.5" fill="#0d1204" opacity="0.8"/><rect x="8.3" y="56.0" width="58.3" height="7.5" fill="#fdfdfb"/></svg></div>
<div class="bx" style="left:867px;top:338px;width:75px;height:75px;background:#2c3b15"><svg width="75" height="75" viewBox="0 0 75 75"><rect x="9.100000000000001" y="12.0" width="58.3" height="7.5" fill="#0d1204" opacity="0.8"/><rect x="8.3" y="10.8" width="58.3" height="7.5" fill="#f6da04"/><rect x="9.100000000000001" y="22.099999999999998" width="58.3" height="7.5" fill="#0d1204" opacity="0.8"/><rect x="8.3" y="20.9" width="58.3" height="7.5" fill="#fdfdfb"/><rect x="9.100000000000001" y="36.800000000000004" width="58.3" height="7.5" fill="#0d1204" opacity="0.8"/><rect x="8.3" y="35.6" width="58.3" height="7.5" fill="#f6da04"/><rect x="9.100000000000001" y="47.300000000000004" width="58.3" height="7.5" fill="#0d1204" opacity="0.8"/><rect x="8.3" y="46.1" width="58.3" height="7.5" fill="#fdfdfb"/><rect x="9.100000000000001" y="57.2" width="58.3" height="7.5" fill="#0d1204" opacity="0.8"/><rect x="8.3" y="56.0" width="58.3" height="7.5" fill="#f6da04"/></svg></div>
<div class="bx" style="left:1076px;top:372.8px;width:75px;height:75px;background:#2c3b15"><svg width="75" height="75" viewBox="0 0 75 75"><rect x="9.100000000000001" y="12.0" width="58.3" height="7.5" fill="#0d1204" opacity="0.8"/><rect x="8.3" y="10.8" width="58.3" height="7.5" fill="#fdfdfb"/><rect x="9.100000000000001" y="22.099999999999998" width="58.3" height="7.5" fill="#0d1204" opacity="0.8"/><rect x="8.3" y="20.9" width="58.3" height="7.5" fill="#fdfdfb"/><rect x="9.100000000000001" y="36.800000000000004" width="58.3" height="7.5" fill="#0d1204" opacity="0.8"/><rect x="8.3" y="35.6" width="58.3" height="7.5" fill="#fdfdfb"/><rect x="9.100000000000001" y="47.300000000000004" width="58.3" height="7.5" fill="#0d1204" opacity="0.8"/><rect x="8.3" y="46.1" width="58.3" height="7.5" fill="#fdfdfb"/><rect x="9.100000000000001" y="57.2" width="58.3" height="7.5" fill="#0d1204" opacity="0.8"/><rect x="8.3" y="56.0" width="58.3" height="7.5" fill="#fdfdfb"/></svg></div>
<div class="bx" style="left:1028.7px;top:338px;width:75px;height:75px;background:#2c3b15"><svg width="75" height="75" viewBox="0 0 75 75"><rect x="9.100000000000001" y="12.0" width="58.3" height="7.5" fill="#0d1204" opacity="0.8"/><rect x="8.3" y="10.8" width="58.3" height="7.5" fill="#f6da04"/><rect x="9.100000000000001" y="22.099999999999998" width="58.3" height="7.5" fill="#0d1204" opacity="0.8"/><rect x="8.3" y="20.9" width="58.3" height="7.5" fill="#f6da04"/><rect x="9.100000000000001" y="36.800000000000004" width="58.3" height="7.5" fill="#0d1204" opacity="0.8"/><rect x="8.3" y="35.6" width="58.3" height="7.5" fill="#f6da04"/><rect x="9.100000000000001" y="47.300000000000004" width="58.3" height="7.5" fill="#0d1204" opacity="0.8"/><rect x="8.3" y="46.1" width="58.3" height="7.5" fill="#f6da04"/><rect x="9.100000000000001" y="57.2" width="58.3" height="7.5" fill="#0d1204" opacity="0.8"/><rect x="8.3" y="56.0" width="58.3" height="7.5" fill="#f6da04"/></svg></div>
<div class="l" style="left:-46.64px;top:458.21px">ASPIRANT</div>
<div class="l" style="left:122.36px;top:458.21px">SOUS-LIEUTENANT</div>
<div class="l" style="left:291.76px;top:458.61px">LIEUTENANT</div>
<div class="l" style="left:447.06px;top:458.91px">CAPITAINE</div>
<div class="l" style="left:612.66px;top:457.61px">COMMANDANT</div>
<div class="l" style="left:778.66px;top:457.41px">LIEUTENANT-COLONEL</div>
<div class="l" style="left:938.76px;top:458.31px">COLONEL</div>
<div class="bx" style="left:90.4px;top:629.8px;width:75px;height:75px;background:#2d3f16"><svg width="75" height="75" viewBox="0 0 75 75"><polygon points="15.80,52.80 27.20,52.80 40.80,21.20 29.40,21.20" fill="#0d1204" opacity="0.85" transform="translate(1.2,1.2)"/><polygon points="15.80,52.80 27.20,52.80 40.80,21.20 29.40,21.20" fill="#fdfdfb"/><polygon points="30.60,52.80 42.00,52.80 55.60,21.20 44.20,21.20" fill="#0d1204" opacity="0.85" transform="translate(1.2,1.2)"/><polygon points="30.60,52.80 42.00,52.80 55.60,21.20 44.20,21.20" fill="#fdfdfb"/></svg></div>
<div class="bx" style="left:43.3px;top:595px;width:75px;height:75px;background:#2d3f16"><svg width="75" height="75" viewBox="0 0 75 75"><polygon points="15.80,52.80 27.20,52.80 40.80,21.20 29.40,21.20" fill="#0d1204" opacity="0.85" transform="translate(1.2,1.2)"/><polygon points="15.80,52.80 27.20,52.80 40.80,21.20 29.40,21.20" fill="#f6da04"/><polygon points="30.60,52.80 42.00,52.80 55.60,21.20 44.20,21.20" fill="#0d1204" opacity="0.85" transform="translate(1.2,1.2)"/><polygon points="30.60,52.80 42.00,52.80 55.60,21.20 44.20,21.20" fill="#f6da04"/></svg></div>
<div class="bx" style="left:259.5px;top:629.8px;width:75px;height:75px;background:#2d3f16"><svg width="75" height="75" viewBox="0 0 75 75"><polygon points="11.10,52.80 22.50,52.80 36.10,21.20 24.70,21.20" fill="#0d1204" opacity="0.85" transform="translate(1.2,1.2)"/><polygon points="11.10,52.80 22.50,52.80 36.10,21.20 24.70,21.20" fill="#fdfdfb"/><polygon points="25.90,52.80 37.30,52.80 50.90,21.20 39.50,21.20" fill="#0d1204" opacity="0.85" transform="translate(1.2,1.2)"/><polygon points="25.90,52.80 37.30,52.80 50.90,21.20 39.50,21.20" fill="#fdfdfb"/><polygon points="40.70,52.80 52.10,52.80 65.70,21.20 54.30,21.20" fill="#0d1204" opacity="0.85" transform="translate(1.2,1.2)"/><polygon points="40.70,52.80 52.10,52.80 65.70,21.20 54.30,21.20" fill="#fdfdfb"/></svg></div>
<div class="bx" style="left:212.4px;top:595px;width:75px;height:75px;background:#2d3f16"><svg width="75" height="75" viewBox="0 0 75 75"><polygon points="11.10,52.80 22.50,52.80 36.10,21.20 24.70,21.20" fill="#0d1204" opacity="0.85" transform="translate(1.2,1.2)"/><polygon points="11.10,52.80 22.50,52.80 36.10,21.20 24.70,21.20" fill="#f6da04"/><polygon points="25.90,52.80 37.30,52.80 50.90,21.20 39.50,21.20" fill="#0d1204" opacity="0.85" transform="translate(1.2,1.2)"/><polygon points="25.90,52.80 37.30,52.80 50.90,21.20 39.50,21.20" fill="#f6da04"/><polygon points="40.70,52.80 52.10,52.80 65.70,21.20 54.30,21.20" fill="#0d1204" opacity="0.85" transform="translate(1.2,1.2)"/><polygon points="40.70,52.80 52.10,52.80 65.70,21.20 54.30,21.20" fill="#f6da04"/></svg></div>
<div class="bx" style="left:428.5px;top:629.8px;width:75px;height:75px;background:#2d3f16"><svg width="75" height="75" viewBox="0 0 75 75"><polygon points="2.60,52.80 14.00,52.80 27.60,21.20 16.20,21.20" fill="#0d1204" opacity="0.85" transform="translate(1.2,1.2)"/><polygon points="2.60,52.80 14.00,52.80 27.60,21.20 16.20,21.20" fill="#fdfdfb"/><polygon points="17.40,52.80 28.80,52.80 42.40,21.20 31.00,21.20" fill="#0d1204" opacity="0.85" transform="translate(1.2,1.2)"/><polygon points="17.40,52.80 28.80,52.80 42.40,21.20 31.00,21.20" fill="#fdfdfb"/><polygon points="32.20,52.80 43.60,52.80 57.20,21.20 45.80,21.20" fill="#0d1204" opacity="0.85" transform="translate(1.2,1.2)"/><polygon points="32.20,52.80 43.60,52.80 57.20,21.20 45.80,21.20" fill="#fdfdfb"/><polygon points="47.00,52.80 58.40,52.80 72.00,21.20 60.60,21.20" fill="#0d1204" opacity="0.85" transform="translate(1.2,1.2)"/><polygon points="47.00,52.80 58.40,52.80 72.00,21.20 60.60,21.20" fill="#fdfdfb"/></svg></div>
<div class="bx" style="left:382px;top:595px;width:75px;height:75px;background:#2d3f16"><svg width="75" height="75" viewBox="0 0 75 75"><polygon points="2.60,52.80 14.00,52.80 27.60,21.20 16.20,21.20" fill="#0d1204" opacity="0.85" transform="translate(1.2,1.2)"/><polygon points="2.60,52.80 14.00,52.80 27.60,21.20 16.20,21.20" fill="#f6da04"/><polygon points="17.40,52.80 28.80,52.80 42.40,21.20 31.00,21.20" fill="#0d1204" opacity="0.85" transform="translate(1.2,1.2)"/><polygon points="17.40,52.80 28.80,52.80 42.40,21.20 31.00,21.20" fill="#f6da04"/><polygon points="32.20,52.80 43.60,52.80 57.20,21.20 45.80,21.20" fill="#0d1204" opacity="0.85" transform="translate(1.2,1.2)"/><polygon points="32.20,52.80 43.60,52.80 57.20,21.20 45.80,21.20" fill="#f6da04"/><polygon points="47.00,52.80 58.40,52.80 72.00,21.20 60.60,21.20" fill="#0d1204" opacity="0.85" transform="translate(1.2,1.2)"/><polygon points="47.00,52.80 58.40,52.80 72.00,21.20 60.60,21.20" fill="#f6da04"/></svg></div>
<div class="bx" style="left:584.1px;top:629.8px;width:75px;height:75px;background:#2d3f16"><svg width="75" height="75" viewBox="0 0 75 75"><rect x="8.8" y="31.5" width="58.3" height="14" fill="#0d1204" opacity="0.8"/><rect x="8" y="30.3" width="58.3" height="14" fill="#f6da04"/><rect x="8" y="36.6" width="58.3" height="2.2" fill="#d85a10"/></svg></div>
<div class="bx" style="left:537.4px;top:595px;width:75px;height:75px;background:#2d3f16"><svg width="75" height="75" viewBox="0 0 75 75"><rect x="8.8" y="31.5" width="58.3" height="14" fill="#0d1204" opacity="0.8"/><rect x="8" y="30.3" width="58.3" height="14" fill="#fdfdfb"/><rect x="8" y="36.6" width="58.3" height="2.2" fill="#d9343a"/></svg></div>
<div class="bx" style="left:748.8px;top:629.8px;width:75px;height:75px;background:#2d3f16"><svg width="75" height="75" viewBox="0 0 75 75"><rect x="8.8" y="31.5" width="58.3" height="14" fill="#0d1204" opacity="0.8"/><rect x="8" y="30.3" width="58.3" height="14" fill="#fdfdfb"/><rect x="8" y="36.6" width="58.3" height="2.2" fill="#d9343a"/></svg></div>
<div class="bx" style="left:702.4px;top:595px;width:75px;height:75px;background:#2d3f16"><svg width="75" height="75" viewBox="0 0 75 75"><rect x="8.8" y="31.5" width="58.3" height="14" fill="#0d1204" opacity="0.8"/><rect x="8" y="30.3" width="58.3" height="14" fill="#f6da04"/><rect x="8" y="36.6" width="58.3" height="2.2" fill="#d85a10"/></svg></div>
<div class="bx" style="left:913px;top:629.8px;width:75px;height:75px;background:#2d3f16"><svg width="75" height="75" viewBox="0 0 75 75"><rect x="9.100000000000001" y="29.0" width="58" height="2.4" fill="#0d1204" opacity="0.8"/><rect x="8.3" y="27.8" width="58" height="2.4" fill="#fdfdfb"/><rect x="9.100000000000001" y="33.6" width="58" height="13.6" fill="#0d1204" opacity="0.8"/><rect x="8.3" y="32.4" width="58" height="13.6" fill="#fdfdfb"/><rect x="8.3" y="38.6" width="58" height="2.1" fill="#d9343a"/></svg></div>
<div class="bx" style="left:866.3px;top:595px;width:75px;height:75px;background:#2d3f16"><svg width="75" height="75" viewBox="0 0 75 75"><rect x="9.100000000000001" y="29.0" width="58" height="2.4" fill="#0d1204" opacity="0.8"/><rect x="8.3" y="27.8" width="58" height="2.4" fill="#f6da04"/><rect x="9.100000000000001" y="33.6" width="58" height="13.6" fill="#0d1204" opacity="0.8"/><rect x="8.3" y="32.4" width="58" height="13.6" fill="#f6da04"/><rect x="8.3" y="38.6" width="58" height="2.1" fill="#d85a10"/></svg></div>
<div class="l" style="left:-46.34px;top:716.01px">SERGENT</div>
<div class="l" style="left:122.66px;top:716.01px">SERGENT-CHEF</div>
<div class="l" style="left:291.86px;top:716.01px">SERGENT-CHEF BM2</div>
<div class="l" style="left:447.46px;top:716.01px">ADJUDANT</div>
<div class="l" style="left:613.16px;top:716.01px">ADJUDANT-CHEF</div>
<div class="l" style="left:776.36px;top:716.01px">MAJOR</div>
<div class="bx" style="left:43.5px;top:852.8px;width:75px;height:75px;background:#2f4319"><svg width="75" height="75" viewBox="0 0 75 75"></svg></div>
<div class="bx" style="left:211px;top:852.8px;width:75px;height:75px;background:#2f4319"><svg width="75" height="75" viewBox="0 0 75 75"><polygon points="23.40,50.9 25.40,50.9 39.60,19.9 37.60,19.9" fill="#b5262a"/><polygon points="28.90,50.90 39.30,50.90 53.50,19.90 43.10,19.90" fill="#0d1204" opacity="0.85" transform="translate(1.2,1.2)"/><polygon points="28.90,50.90 39.30,50.90 53.50,19.90 43.10,19.90" fill="#e41a1a"/></svg></div>
<div class="bx" style="left:381px;top:852.8px;width:75px;height:75px;background:#2f4319"><svg width="75" height="75" viewBox="0 0 75 75"><polygon points="15.60,50.9 17.60,50.9 31.80,19.9 29.80,19.9" fill="#b5262a"/><polygon points="21.10,50.90 31.50,50.90 45.70,19.90 35.30,19.90" fill="#0d1204" opacity="0.85" transform="translate(1.2,1.2)"/><polygon points="21.10,50.90 31.50,50.90 45.70,19.90 35.30,19.90" fill="#e41a1a"/><polygon points="36.10,50.90 46.50,50.90 60.70,19.90 50.30,19.90" fill="#0d1204" opacity="0.85" transform="translate(1.2,1.2)"/><polygon points="36.10,50.90 46.50,50.90 60.70,19.90 50.30,19.90" fill="#e41a1a"/></svg></div>
<div class="bx" style="left:540.1px;top:852.8px;width:75px;height:75px;background:#2f4319"><svg width="75" height="75" viewBox="0 0 75 75"><polygon points="7.80,50.9 9.80,50.9 24.00,19.9 22.00,19.9" fill="#d8c840"/><polygon points="13.30,50.90 23.70,50.90 37.90,19.90 27.50,19.90" fill="#0d1204" opacity="0.85" transform="translate(1.2,1.2)"/><polygon points="13.30,50.90 23.70,50.90 37.90,19.90 27.50,19.90" fill="#f6da04"/><polygon points="28.30,50.90 38.70,50.90 52.90,19.90 42.50,19.90" fill="#0d1204" opacity="0.85" transform="translate(1.2,1.2)"/><polygon points="28.30,50.90 38.70,50.90 52.90,19.90 42.50,19.90" fill="#e41a1a"/><polygon points="43.30,50.90 53.70,50.90 67.90,19.90 57.50,19.90" fill="#0d1204" opacity="0.85" transform="translate(1.2,1.2)"/><polygon points="43.30,50.90 53.70,50.90 67.90,19.90 57.50,19.90" fill="#e41a1a"/></svg></div>
<div class="bx" style="left:706.5px;top:852.8px;width:75px;height:75px;background:#2f4319"><svg width="75" height="75" viewBox="0 0 75 75"><polygon points="7.80,50.9 9.80,50.9 24.00,19.9 22.00,19.9" fill="#d8c840"/><polygon points="13.30,50.90 23.70,50.90 37.90,19.90 27.50,19.90" fill="#0d1204" opacity="0.85" transform="translate(1.2,1.2)"/><polygon points="13.30,50.90 23.70,50.90 37.90,19.90 27.50,19.90" fill="#f6da04"/><polygon points="28.30,50.90 38.70,50.90 52.90,19.90 42.50,19.90" fill="#0d1204" opacity="0.85" transform="translate(1.2,1.2)"/><polygon points="28.30,50.90 38.70,50.90 52.90,19.90 42.50,19.90" fill="#f6da04"/><polygon points="43.30,50.90 53.70,50.90 67.90,19.90 57.50,19.90" fill="#0d1204" opacity="0.85" transform="translate(1.2,1.2)"/><polygon points="43.30,50.90 53.70,50.90 67.90,19.90 57.50,19.90" fill="#e41a1a"/></svg></div>
<div class="l" style="left:-68.24px;top:938.21px">SOLDAT</div>
<div class="l" style="left:99.06px;top:938.21px">SOLDAT DE 1<sup>re</sup> CLASSE</div>
<div class="l" style="left:269.46px;top:938.01px">CAPORAL</div>
<div class="l" style="left:427.36px;top:938.71px">CAPORAL-CHEF</div>
<div class="l" style="left:592.36px;top:938.01px">CAPORAL-CHEF</div>
<div class="l" style="left:594.56px;top:954.61px">DE 1<sup>re</sup> CLASSE</div>
</body></html>
